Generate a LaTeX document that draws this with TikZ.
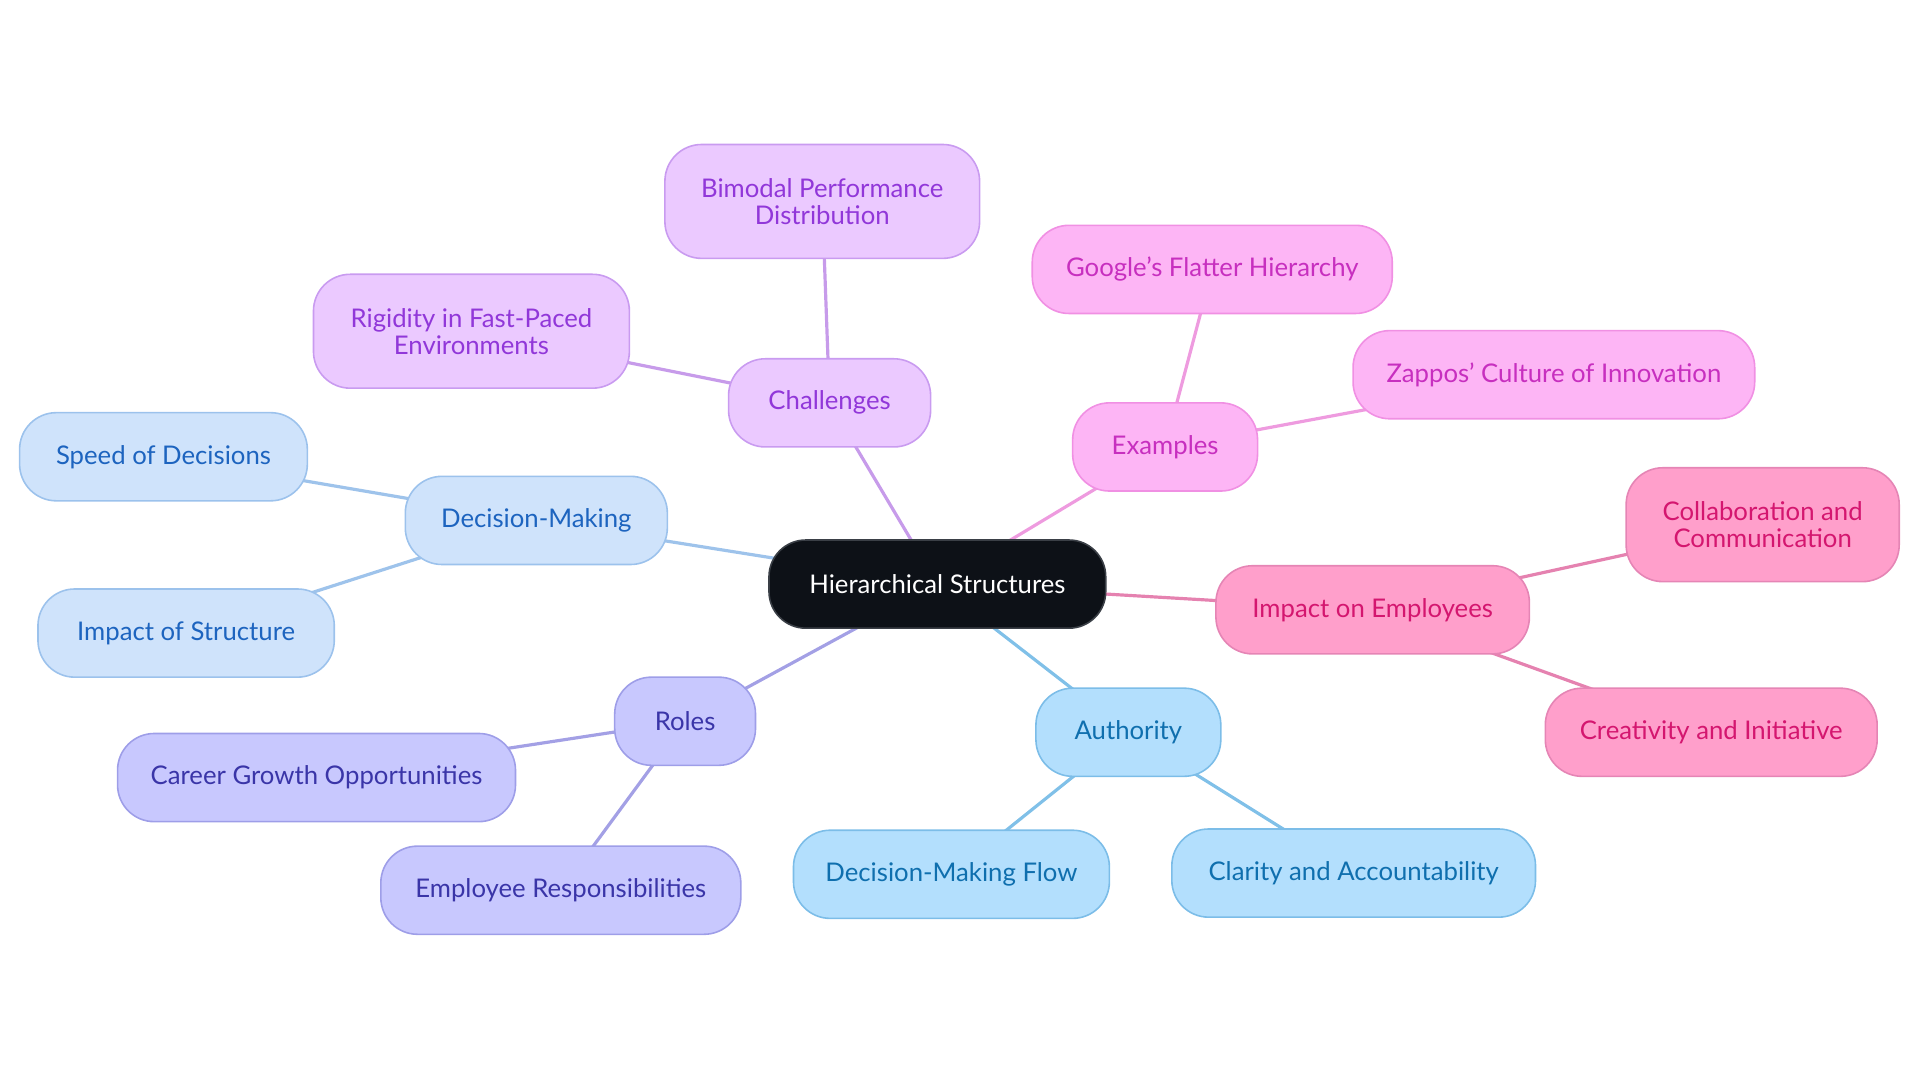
\documentclass[tikz,border=0pt]{standalone}
\usepackage{fontspec}
\defaultfontfeatures{}
\setmainfont{Lato}[Ligatures=Common]
\usetikzlibrary{backgrounds}
\definecolor{cfill}{HTML}{0D1117}\definecolor{cdraw}{HTML}{3A3F46}
\definecolor{pufill}{HTML}{EBC9FF}\definecolor{pudraw}{HTML}{C99BF0}\definecolor{putext}{HTML}{9137D9}\definecolor{puline}{HTML}{C79BEA}
\definecolor{pkfill}{HTML}{FDB5F5}\definecolor{pkdraw}{HTML}{F090E3}\definecolor{pktext}{HTML}{C72FBF}\definecolor{pkline}{HTML}{EE9BDF}
\definecolor{lbfill}{HTML}{CFE3FB}\definecolor{lbdraw}{HTML}{9CC2EC}\definecolor{lbtext}{HTML}{1D64BF}\definecolor{lbline}{HTML}{9EC3EB}
\definecolor{hpfill}{HTML}{FF9FCB}\definecolor{hpdraw}{HTML}{E585B5}\definecolor{hptext}{HTML}{D4166F}\definecolor{hpline}{HTML}{E582B0}
\definecolor{skfill}{HTML}{B3DFFD}\definecolor{skdraw}{HTML}{7CBDE8}\definecolor{sktext}{HTML}{0F6FAE}\definecolor{skline}{HTML}{80C0E8}
\definecolor{infill}{HTML}{C8C8FE}\definecolor{indraw}{HTML}{9E9EE8}\definecolor{intext}{HTML}{3A35A8}\definecolor{inline}{HTML}{A3A0E5}
\begin{document}
\begin{tikzpicture}[x=1pt,y=-1pt,
  base/.style={rectangle,rounded corners=30pt,line width=1.3pt,align=center,
    font=\fontsize{21}{22}\selectfont,inner sep=0pt},
  sz/.style 2 args={minimum width=#1pt,minimum height=#2pt},
  central/.style={base,fill=cfill,draw=cdraw,text=white},
  pu/.style={base,fill=pufill,draw=pudraw,text=putext},
  pk/.style={base,fill=pkfill,draw=pkdraw,text=pktext},
  lb/.style={base,fill=lbfill,draw=lbdraw,text=lbtext},
  hp/.style={base,fill=hpfill,draw=hpdraw,text=hptext},
  sk/.style={base,fill=skfill,draw=skdraw,text=sktext},
  ind/.style={base,fill=infill,draw=indraw,text=intext},
  link/.style={line width=2.6pt,draw=#1}]
\useasboundingbox (0,0) rectangle (1568,884);
\node[central,sz={275}{72}] (hs) at (765.5,477) {Hierarchical Structures};
\node[pu,sz={165}{72}] (ch) at (677.5,329) {Challenges};
\node[pu,sz={257}{93}] (bi) at (671.5,164.5) {Bimodal Performance\\Distribution};
\node[pu,sz={258}{93}] (ri) at (385,270.5) {Rigidity in Fast-Paced\\Environments};
\node[pk,sz={151}{72}] (ex) at (951.5,365) {Examples};
\node[pk,sz={294}{72}] (go) at (990,220) {Google's Flatter Hierarchy};
\node[pk,sz={328}{72}] (za) at (1269,306) {Zappos' Culture of Innovation};
\node[lb,sz={214}{72}] (dm) at (438,425) {Decision-Making};
\node[lb,sz={235}{72}] (sp) at (133.5,373) {Speed of Decisions};
\node[lb,sz={242}{72}] (im) at (152,517) {Impact of Structure};
\node[hp,sz={256}{72}] (ie) at (1121,498) {Impact on Employees};
\node[hp,sz={223}{93}] (co) at (1439.5,428.5) {Collaboration and\\Communication};
\node[hp,sz={271}{72}] (cr) at (1397.5,598) {Creativity and Initiative};
\node[sk,sz={151}{72}] (au) at (921.5,598) {Authority};
\node[sk,sz={258}{72}] (df) at (777,714) {Decision-Making Flow};
\node[sk,sz={297}{72}] (cl) at (1105.5,713) {Clarity and Accountability};
\node[ind,sz={115}{72}] (ro) at (559.5,589) {Roles};
\node[ind,sz={325}{72}] (cg) at (258.5,635) {Career Growth Opportunities};
\node[ind,sz={294}{72}] (er) at (458,727) {Employee Responsibilities};
\begin{scope}[on background layer]
\draw[link=puline] (hs.center) -- (ch.center);
\draw[link=puline] (ch.center) -- (bi.center);
\draw[link=puline] (ch.center) -- (ri.center);
\draw[link=pkline] (hs.center) -- (ex.center);
\draw[link=pkline] (ex.center) -- (go.center);
\draw[link=pkline] (ex.center) -- (za.center);
\draw[link=lbline] (hs.center) -- (dm.center);
\draw[link=lbline] (dm.center) -- (sp.center);
\draw[link=lbline] (dm.center) -- (im.center);
\draw[link=hpline] (hs.center) -- (ie.center);
\draw[link=hpline] (ie.center) -- (co.center);
\draw[link=hpline] (ie.center) -- (cr.center);
\draw[link=skline] (hs.center) -- (au.center);
\draw[link=skline] (au.center) -- (df.center);
\draw[link=skline] (au.center) -- (cl.center);
\draw[link=inline] (hs.center) -- (ro.center);
\draw[link=inline] (ro.center) -- (cg.center);
\draw[link=inline] (ro.center) -- (er.center);
\end{scope}
\end{tikzpicture}
\end{document}
